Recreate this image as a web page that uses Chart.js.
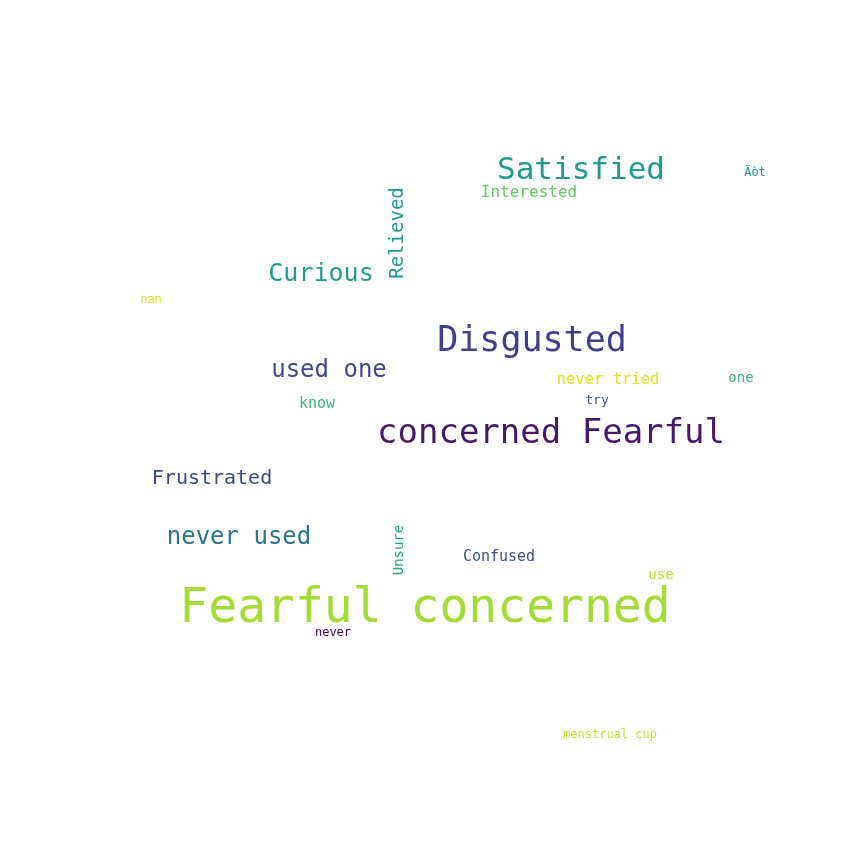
<!DOCTYPE html>
<html>
<head>
<meta charset="utf-8">
<script src="https://cdn.jsdelivr.net/npm/chart.js@4/dist/chart.umd.min.js"></script>
<style>
  html, body { margin: 0; padding: 0; background: #fff; }
  #wrap { width: 864px; height: 864px; }
</style>
</head>
<body>
<div id="wrap"><canvas id="cloud"></canvas></div>
<script>
'use strict';

// word cloud terms and their placement (in 0..864 layout units)
var words = ['Fearful concerned', 'concerned Fearful', 'Disgusted', 'Satisfied', 'Interested', 'Äòt',
	'Relieved', 'Curious', 'nan', 'used one', 'never tried', 'one', 'know', 'try', 'Frustrated',
	'never used', 'Unsure', 'Confused', 'use', 'never', 'menstrual cup'];
var xs = [425, 551, 532, 581, 529, 755, 398, 321, 151, 329, 608, 741, 317, 597, 212, 239, 399, 499, 661, 333, 610];
var ys = [610, 434, 342, 171, 193, 173, 233, 274, 300, 371, 380, 378, 404, 401, 479, 538, 550, 557, 575, 633, 735];
var weights = [48, 34, 35, 31, 16, 12, 19, 25, 12, 24, 15.5, 14, 15, 13, 20, 24, 14, 15, 14, 12, 12];
var vertical = [0, 0, 0, 0, 0, 0, 1, 0, 0, 0, 0, 0, 0, 0, 0, 0, 1, 0, 0, 0, 0];
var colors = ['#a5db36', '#46186c', '#3f3f8c', '#1f9a8a', '#5ec962', '#21918c', '#1f9a8a', '#1f9e89',
	'#d8e219', '#3e4a89', '#dde318', '#35b779', '#35b779', '#3b528b', '#3e4989', '#2c728e', '#22a884',
	'#3b528b', '#b5de2b', '#440154', '#bddf26'];

var wordPlugin = {
	id: 'words',
	afterDatasetsDraw: function(chart) {
		var ctx = chart.ctx;
		var sx = chart.scales.x, sy = chart.scales.y;
		ctx.save();
		ctx.textAlign = 'center';
		ctx.textBaseline = 'middle';
		chart.data.datasets[0].data.forEach(function(p, i) {
			ctx.save();
			ctx.translate(sx.getPixelForValue(p.x), sy.getPixelForValue(p.y));
			if (vertical[i]) ctx.rotate(-Math.PI / 2);
			ctx.font = weights[i] + 'px "DejaVu Sans Mono"';
			ctx.fillStyle = colors[i];
			ctx.fillText(words[i], 0, 0);
			ctx.restore();
		});
		ctx.restore();
	}
};

new Chart(document.getElementById('cloud'), {
	type: 'scatter',
	data: {
		datasets: [{
			data: xs.map(function(x, i) { return { x: x, y: ys[i] }; }),
			pointRadius: 0
		}]
	},
	options: {
		responsive: true,
		maintainAspectRatio: false,
		animation: false,
		layout: { padding: 0 },
		plugins: { legend: { display: false }, tooltip: { enabled: false } },
		scales: {
			x: { type: 'linear', min: 0, max: 864, display: false },
			y: { type: 'linear', min: 0, max: 864, reverse: true, display: false }
		}
	},
	plugins: [wordPlugin]
});
</script>
</body>
</html>
